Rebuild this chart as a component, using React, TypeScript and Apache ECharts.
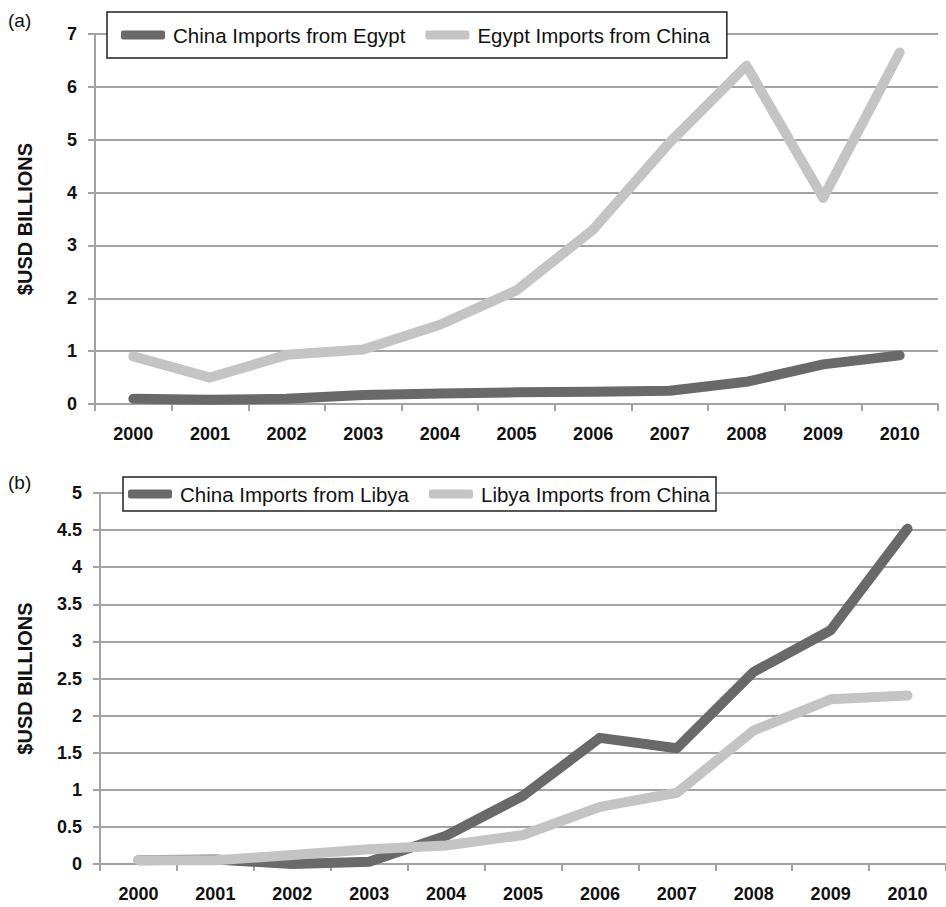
import React, { useEffect, useRef } from "react";
import * as echarts from "echarts";

const years = ["2000", "2001", "2002", "2003", "2004", "2005", "2006", "2007", "2008", "2009", "2010"];

const chinaFromEgypt = [0.1, 0.08, 0.1, 0.17, 0.2, 0.22, 0.23, 0.25, 0.42, 0.75, 0.92];
const egyptFromChina = [0.9, 0.5, 0.93, 1.03, 1.5, 2.15, 3.3, 4.95, 6.4, 3.9, 6.65];

const chinaFromLibya = [0.05, 0.06, 0.0, 0.03, 0.38, 0.92, 1.7, 1.56, 2.59, 3.15, 4.52];
const libyaFromChina = [0.05, 0.05, 0.12, 0.2, 0.25, 0.39, 0.77, 0.96, 1.8, 2.22, 2.27];

const namesA = ["China Imports from Egypt", "Egypt Imports from China"];
const namesB = ["China Imports from Libya", "Libya Imports from China"];

const DARK = "#696969";
const LIGHT = "#c4c4c4";
const GRIDC = "#a3a3a3";
const FONT = "'Liberation Sans', Arial, sans-serif";

export default function App() {
  const ref = useRef<HTMLDivElement>(null);
  useEffect(() => {
    document.body.style.margin = "0";
    document.body.style.background = "#ffffff";
    const chart = echarts.init(ref.current!, undefined, { renderer: "svg" });
    const xAxisCommon = (gridIndex: number) => ({
      type: "category" as const,
      gridIndex,
      data: years,
      boundaryGap: true,
      axisLine: { show: true, lineStyle: { color: GRIDC, width: 2 } },
      axisTick: { show: true, length: 7, lineStyle: { color: GRIDC, width: 2 } },
      axisLabel: { color: "#111", fontSize: 18, fontWeight: "bold" as const, fontFamily: FONT, margin: 21 },
    });
    const yAxisCommon = (gridIndex: number, max: number, interval: number, nameGap: number) => ({
      type: "value" as const,
      gridIndex,
      min: 0,
      max,
      interval,
      name: "$USD BILLIONS",
      nameLocation: "middle" as const,
      nameRotate: 90,
      nameGap,
      nameTextStyle: { color: "#111", fontSize: 20, fontWeight: "bold" as const, fontFamily: FONT },
      axisLine: { show: true, lineStyle: { color: GRIDC, width: 2 } },
      axisTick: { show: true, length: 7, lineStyle: { color: GRIDC, width: 2 } },
      splitLine: { show: true, lineStyle: { color: GRIDC, width: 2 } },
      axisLabel: { color: "#111", fontSize: 18, fontWeight: "bold" as const, fontFamily: FONT, margin: 18 },
    });
    const line = (name: string, data: number[], color: string, idx: number) => ({
      type: "line" as const,
      name,
      data,
      xAxisIndex: idx,
      yAxisIndex: idx,
      showSymbol: false,
      symbol: "none",
      smooth: false,
      color,
      lineStyle: { color, width: 10, cap: "round" as const, join: "round" as const },
    });
    const legendCommon = {
      orient: "horizontal" as const,
      icon: "roundRect",
      itemWidth: 44,
      itemHeight: 9,
      itemGap: 20,
      backgroundColor: "#ffffff",
      borderColor: "#222",
      borderWidth: 1.5,
      borderRadius: 0,
      textStyle: { color: "#111", fontSize: 20.5, fontFamily: FONT, lineHeight: 22, padding: [0, 0, 0, 3] },
    };
    chart.setOption({
      animation: false,
      backgroundColor: "#ffffff",
      grid: [
        { left: 95, top: 34, width: 843, height: 370 },
        { left: 100, top: 493, width: 847, height: 371 },
      ],
      xAxis: [xAxisCommon(0), xAxisCommon(1)],
      yAxis: [yAxisCommon(0, 7, 1, 60), yAxisCommon(1, 5, 0.5, 65)],
      legend: [
        { ...legendCommon, data: namesA, left: 107, top: 12, padding: [12, 17, 12, 14] },
        { ...legendCommon, data: namesB, left: 123, top: 477, padding: [6, 6, 6, 5] },
      ],
      graphic: [
        { type: "text", left: 8, top: 11, style: { text: "(a)", fontSize: 19, fontFamily: FONT, fill: "#111" } },
        { type: "text", left: 8, top: 473, style: { text: "(b)", fontSize: 19, fontFamily: FONT, fill: "#111" } },
      ],
      series: [
        line(namesA[0], chinaFromEgypt, DARK, 0),
        line(namesA[1], egyptFromChina, LIGHT, 0),
        line(namesB[0], chinaFromLibya, DARK, 1),
        line(namesB[1], libyaFromChina, LIGHT, 1),
      ],
    });
    return () => chart.dispose();
  }, []);
  return <div ref={ref} style={{ width: 946, height: 907 }} />;
}
